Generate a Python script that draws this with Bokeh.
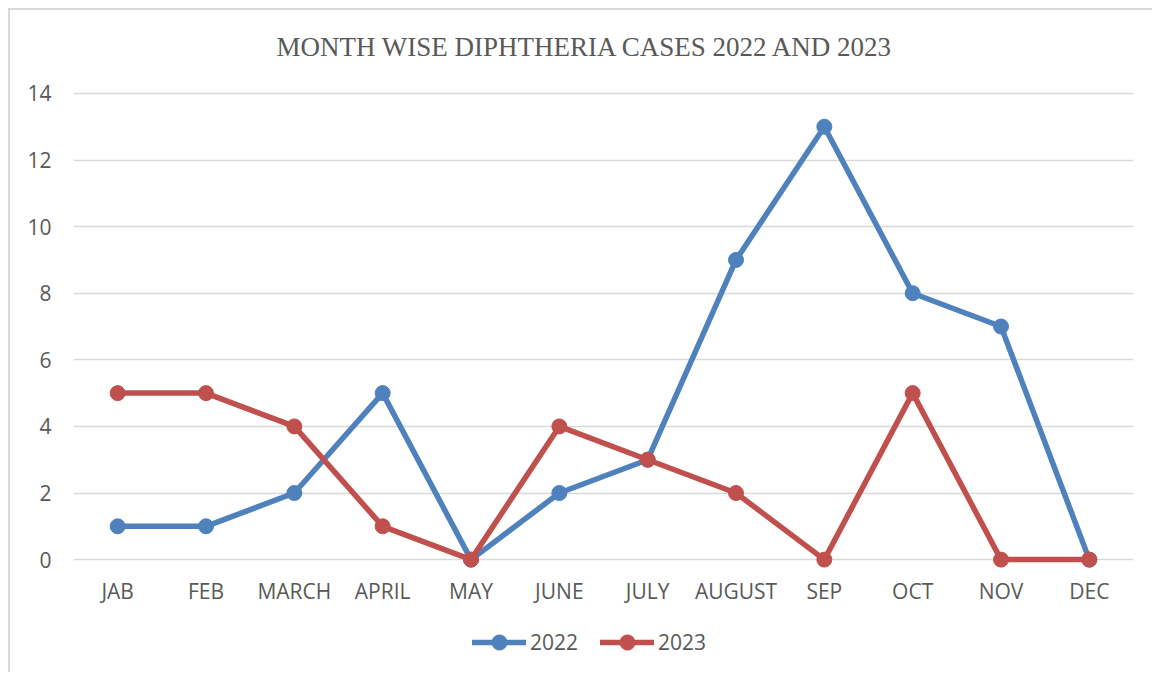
from bokeh.plotting import figure
from bokeh.models import Range1d, Legend, LegendItem, FixedTicker, Label
from bokeh.core.properties import value
from bokeh.embed import file_html
from bokeh.resources import INLINE

months = ["JAB", "FEB", "MARCH", "APRIL", "MAY", "JUNE", "JULY", "AUGUST", "SEP", "OCT", "NOV", "DEC"]
cases_2022 = [1, 1, 2, 5, 0, 2, 3, 9, 13, 8, 7, 0]
cases_2023 = [5, 5, 4, 1, 0, 4, 3, 2, 0, 5, 0, 0]
y_ticks = [0, 2, 4, 6, 8, 10, 12, 14]
title_text = "MONTH WISE DIPHTHERIA CASES 2022 AND 2023"

TXT = "#595959"
GRID = "#d9d9d9"
BLUE = "#4F81BD"
RED = "#C0504D"
SANS = "Open Sans"

# category label row sits just under the zero line (in data units)
label_y = -0.93

p = figure(
    x_range=months,
    y_range=Range1d(-3.45, 16.49),
    width=1144, height=664,
    output_backend="svg", toolbar_location=None,
    min_border_left=63, min_border_right=21, min_border_top=0, min_border_bottom=0,
)
p.styles = {"box-shadow": "-2px -2px 0 0 #d9d9d9", "margin-left": "10px", "margin-top": "10px"}
p.outline_line_color = None
p.background_fill_color = "white"
p.border_fill_color = "white"

p.add_layout(Label(x=512, y=628, x_units="screen", y_units="screen", text=title_text,
                   text_font="Liberation Serif", text_font_size="27px", text_color=TXT,
                   text_align="center", text_baseline="middle"))

p.xaxis.visible = False
p.xgrid.grid_line_color = None
p.ygrid.grid_line_color = GRID
p.ygrid.grid_line_width = 1.5

p.yaxis.ticker = FixedTicker(ticks=y_ticks)
p.yaxis.axis_line_color = None
p.yaxis.major_tick_line_color = None
p.yaxis.minor_tick_line_color = None
p.yaxis.major_tick_out = 0
p.yaxis.major_tick_in = 0
p.yaxis.major_label_text_font = SANS
p.yaxis.major_label_text_font_size = "21px"
p.yaxis.major_label_text_color = TXT
p.yaxis.major_label_standoff = 22

p.text(x=months, y=[label_y] * len(months), text=months,
       text_font=value(SANS), text_font_size="21px", text_color=TXT,
       text_align="center", text_baseline="middle")

r1l = p.line(months, cases_2022, line_color=BLUE, line_width=5.5, line_cap="round", line_join="round")
r1m = p.scatter(months, cases_2022, size=15, fill_color=BLUE, line_color=BLUE)
r2l = p.line(months, cases_2023, line_color=RED, line_width=5.5, line_cap="round", line_join="round")
r2m = p.scatter(months, cases_2023, size=15, fill_color=RED, line_color=RED)

legend = Legend(
    items=[LegendItem(label="2022", renderers=[r1l, r1m]),
           LegendItem(label="2023", renderers=[r2l, r2m])],
    orientation="horizontal",
    location=(399, 13),
    glyph_width=54,
    glyph_height=38,
    label_standoff=4,
    spacing=22,
    margin=0,
    padding=4,
    border_line_color=None,
    background_fill_alpha=0,
    label_text_font=SANS,
    label_text_font_size="21px",
    label_text_color=TXT,
)
p.add_layout(legend, "center")

open("out.html", "w").write(file_html(p, INLINE))
